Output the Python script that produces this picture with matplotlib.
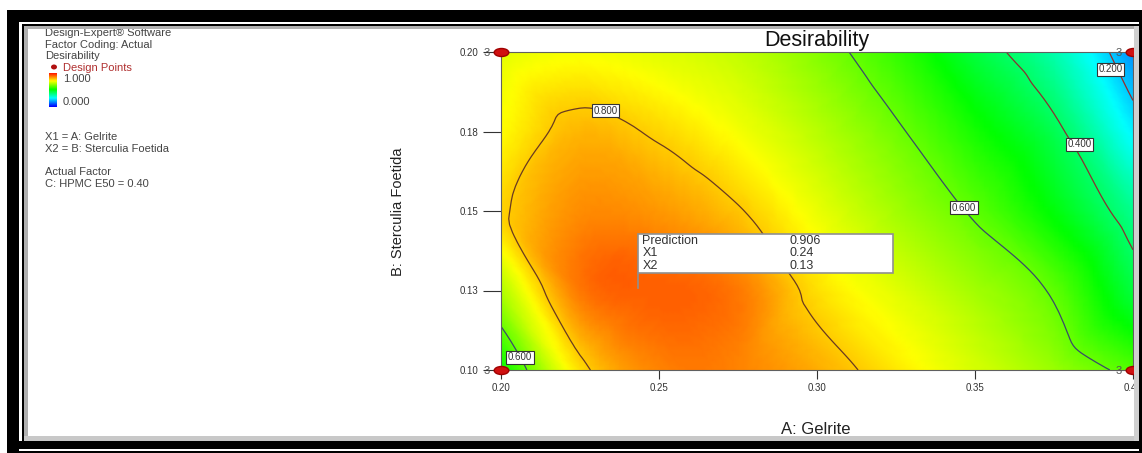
import numpy as np
import matplotlib
matplotlib.use("Agg")
import matplotlib.pyplot as plt
import matplotlib.tri as mtri
from matplotlib.colors import LinearSegmentedColormap
from matplotlib.patches import Rectangle, Ellipse
from matplotlib.path import Path
from matplotlib.transforms import ScaledTranslation

plt.rcParams['font.family'] = ['Liberation Sans', 'DejaVu Sans']

# --- data ---
gelrite = [0.200, 0.225, 0.250, 0.275, 0.300, 0.325, 0.350, 0.375, 0.400]
sterculia = [0.100, 0.125, 0.150, 0.175, 0.200]
# desirability estimated on the grid above (rows = sterculia, cols = gelrite)
desir = [
    [0.50, 0.78, 0.87, 0.87, 0.83, 0.77, 0.71, 0.65, 0.58],
    [0.67, 0.88, 0.905, 0.88, 0.78, 0.72, 0.66, 0.59, 0.44],
    [0.79, 0.86, 0.85, 0.805, 0.73, 0.66, 0.59, 0.49, 0.36],
    [0.75, 0.82, 0.79, 0.74, 0.68, 0.61, 0.52, 0.42, 0.24],
    [0.72, 0.74, 0.72, 0.69, 0.63, 0.55, 0.44, 0.33, 0.14],
]
contour_levels = [0.2, 0.4, 0.6, 0.8]
contour_colors = ['#9a2a2a', '#8a3030', '#3a4a6a', '#6a3a20']

design_x = [0.20, 0.20, 0.40, 0.40]
design_y = [0.10, 0.20, 0.10, 0.20]
design_n = [3, 3, 3, 3]

xticks = [0.20, 0.25, 0.30, 0.35, 0.40]
xtick_labels = ['0.20', '0.25', '0.30', '0.35', '0.40']
yticks = [0.100, 0.125, 0.150, 0.175, 0.200]
ytick_labels = ['0.10', '0.13', '0.15', '0.18', '0.20']

pred_x1, pred_x2, pred_val = 0.2435, 0.1258, 0.906

# contour labels (text, x, y)
clab_text = ['0.800', '0.600', '0.600', '0.400', '0.200']
clab_x = [0.2331, 0.3465, 0.2060, 0.3830, 0.3930]
clab_y = [0.1815, 0.1510, 0.1040, 0.1710, 0.1945]

W, H = 1142, 453
fig = plt.figure(figsize=(W / 100, H / 100), dpi=100)
fig.patch.set_facecolor('white')

def fx(px):
    return px / W

def fy(py):
    return 1 - py / H

ax = fig.add_axes([fx(501), fy(370), (1133 - 501) / W, (370 - 52) / H])

cmap = LinearSegmentedColormap.from_list(
    'de', ['#0000ff', '#00ffff', '#00ff00', '#ffff00', '#ff0000'])

gx, gy = np.meshgrid(gelrite, sterculia)
z = np.array(desir).ravel()
tri = mtri.Triangulation(gx.ravel(), gy.ravel())
interp = mtri.CubicTriInterpolator(tri, z, kind='geom')
refiner = mtri.UniformTriRefiner(tri)
tri_f, z_f = refiner.refine_field(z, interp, subdiv=4)

ax.tripcolor(tri_f, z_f, shading='gouraud', cmap=cmap, vmin=0, vmax=1)
ax.tricontour(tri_f, z_f, levels=contour_levels, colors=contour_colors,
              linewidths=0.9)

for t, x, y in zip(clab_text, clab_x, clab_y):
    ax.text(x, y, t, fontsize=7, color='#333333', ha='center', va='center',
            bbox=dict(boxstyle='square,pad=0.15', fc='white', ec='#333333', lw=0.8))

# design points (small red ellipses)
circ = Path.unit_circle()
ell = Path(circ.vertices * np.array([1.0, 0.55]), circ.codes)
ax.plot(design_x, design_y, linestyle='none', marker=ell, markersize=10.5,
        color='#d01010', mec='#a00000', clip_on=False, zorder=5)
for x, y, n in zip(design_x, design_y, design_n):
    ax.annotate(str(n), (x, y), xytext=(-14, 0), textcoords='offset pixels',
                fontsize=8, color='#555555', ha='center', va='center_baseline',
                annotation_clip=False, zorder=6)

ax.set_xlim(0.2, 0.4)
ax.set_ylim(0.1, 0.2)
ax.set_xticks(xticks, xtick_labels)
ax.set_yticks(yticks, ytick_labels)
ax.tick_params(axis='y', length=13, width=0.8, colors='#333333', labelsize=7, pad=3)
ax.tick_params(axis='x', length=6.5, width=0.8, colors='#333333', labelsize=7, pad=3)
for s in ax.spines.values():
    s.set_color('#606060')
    s.set_linewidth(0.8)

ax.set_title('Desirability', fontsize=15.5, color='#111111', pad=4)
fig.text(fx(816), fy(430), 'A: Gelrite', fontsize=12, color='#222222',
         ha='center', va='center')
fig.text(fx(398), fy(212), 'B: Sterculia Foetida', fontsize=10.5, color='#222222',
         ha='center', va='center', rotation=90)

# prediction flag
pt = fig.dpi_scale_trans + ScaledTranslation(pred_x1, pred_x2, ax.transData)
ax.plot([0, 0], [0, 0.15], color='#909090', lw=1.2, transform=pt, zorder=6)
ax.add_patch(Rectangle((0, 0.15), 2.55, 0.39, transform=pt, fc='white',
                       ec='#909090', lw=1.2, zorder=6))
rows = [('Prediction', f'{pred_val:.3f}'), ('X1', f'{pred_x1:.2f}'),
        ('X2', f'{pred_x2:.2f}')]
for i, (k, v) in enumerate(rows):
    yy = 0.47 - i * 0.125
    ax.text(0.04, yy, k, transform=pt, fontsize=9, color='#333333', va='center', zorder=7)
    ax.text(1.51, yy, v, transform=pt, fontsize=9, color='#333333', va='center', zorder=7)

# left info panel
info = [
    (33, 'Design-Expert® Software'),
    (45, 'Factor Coding: Actual'),
    (56, 'Desirability'),
]
for py, t in info:
    fig.text(fx(45), fy(py), t, fontsize=8, color='#444444', va='center')
fig.text(fx(63), fy(68), 'Design Points', fontsize=8, color='#b03030', va='center')
fig.patches.append(Ellipse((fx(54), fy(67)), 6 / W, 5 / H,
                           transform=fig.transFigure, fc='#b01010', ec='none'))
cb = np.linspace(1, 0, 50).reshape(-1, 1)
cax = fig.add_axes([fx(49), fy(107), 8 / W, 34 / H])
cax.imshow(cb, cmap=cmap, aspect='auto')
cax.set_axis_off()
fig.text(fx(63), fy(79), '1.000', fontsize=8, color='#444444', va='center')
fig.text(fx(63), fy(102), '0.000', fontsize=8, color='#444444', va='center')
for py, t in [(137, 'X1 = A: Gelrite'), (149, 'X2 = B: Sterculia Foetida'),
              (172, 'Actual Factor'), (184, 'C: HPMC E50 = 0.40')]:
    fig.text(fx(45), fy(py), t, fontsize=8, color='#444444', va='center')

# black photo frame
def band(x0, y0, x1, y1, c='black'):
    fig.patches.append(Rectangle((fx(x0), fy(y1)), (x1 - x0) / W, (y1 - y0) / H,
                                 transform=fig.transFigure, fc=c, ec='none', zorder=20))

band(7, 10, W, 22)
band(22, 24, W, 26)
band(7, 10, 19, H)
band(22, 24, 24, 449)
band(1139, 10, W, H)
band(7, 441, W, 449)
band(7, 451, W, H)
band(27, 26, 1139, 29, '#b0b0b0')
band(24, 26, 28, 441, '#b0b0b0')
band(24, 436, 1139, 441, '#c8c8c8')
band(1134, 26, 1139, 441, '#d0d0d0')

fig.savefig('out.png', dpi=100)
